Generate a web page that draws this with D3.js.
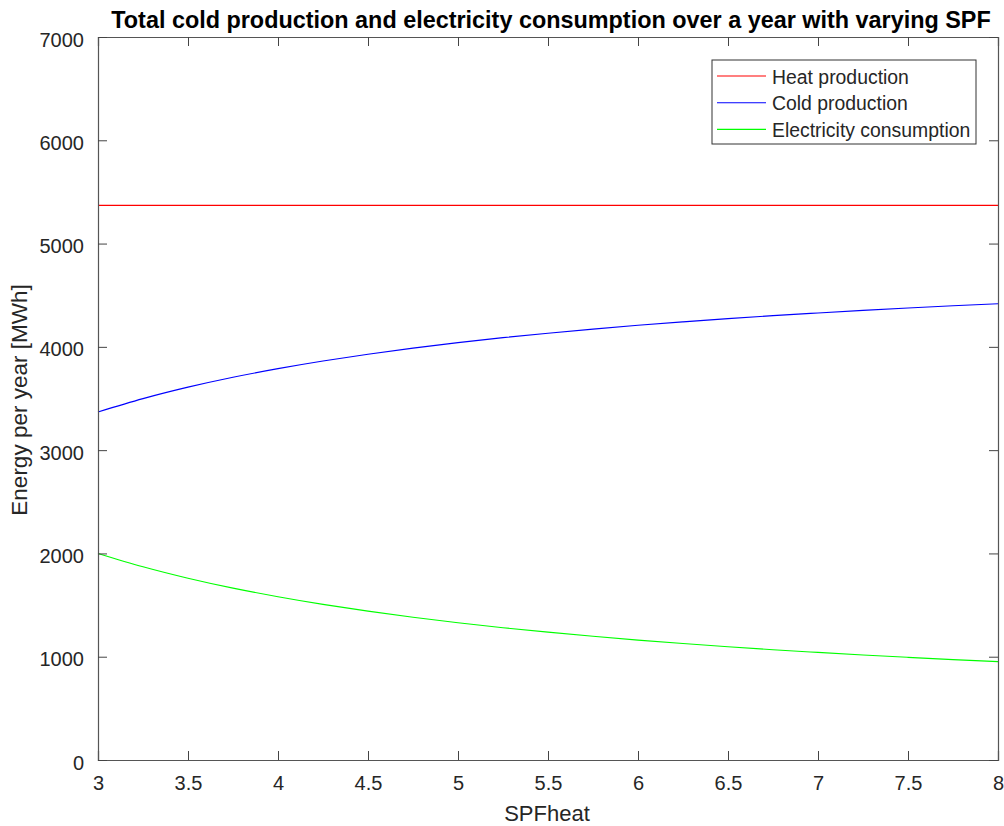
<!DOCTYPE html>
<html>
<head>
<meta charset="utf-8">
<script src="https://cdn.jsdelivr.net/npm/d3@7"></script>
<style>
  body { margin: 0; background: #fff; }
  text { font-family: "Liberation Sans", Arial, sans-serif; fill: #262626; }
</style>
</head>
<body>
<div id="chart"></div>
<script>
// SPF values, every 0.25
var spf = [3, 3.25, 3.5, 3.75, 4, 4.25, 4.5, 4.75, 5, 5.25, 5.5, 5.75, 6, 6.25, 6.5, 6.75, 7, 7.25, 7.5, 7.75, 8];
var heat = [5370, 5370, 5370, 5370, 5370, 5370, 5370, 5370, 5370, 5370, 5370,
            5370, 5370, 5370, 5370, 5370, 5370, 5370, 5370, 5370, 5370];
var cold = [3370, 3499, 3610, 3706, 3789, 3863, 3929, 3988, 4041, 4089, 4132,
            4172, 4209, 4242, 4273, 4302, 4328, 4353, 4376, 4398, 4418];
var elec = [2000, 1871, 1760, 1664, 1581, 1507, 1441, 1382, 1329, 1281, 1238,
            1198, 1161, 1128, 1097, 1068, 1042, 1017, 994, 972, 952];
var seriesNames = ["Heat production", "Cold production", "Electricity consumption"];
var seriesColors = ["#ff0000", "#0000ff", "#00ff00"];
var xTicks = [3, 3.5, 4, 4.5, 5, 5.5, 6, 6.5, 7, 7.5, 8];
var yTicks = [0, 1000, 2000, 3000, 4000, 5000, 6000, 7000];

var width = 1004, height = 826;
// plot box (note: "top" is taken by window.top, so prefix them)
var plotLeft = 98, plotRight = 998, plotTop = 37, plotBottom = 760;

var svg = d3.select("#chart").append("svg")
  .attr("width", width)
  .attr("height", height);

var x = d3.scaleLinear().domain([3, 8]).range([plotLeft, plotRight]);
var y = d3.scaleLinear().domain([0, 7000]).range([plotBottom, plotTop]);

// lines
var allSeries = [heat, cold, elec];
var line = d3.line()
  .x(function(d, i) { return x(spf[i]); })
  .y(function(d) { return y(d); })
  .curve(d3.curveMonotoneX);

svg.selectAll(".series")
  .data(allSeries)
  .enter().append("path")
  .attr("class", "series")
  .attr("d", line)
  .attr("fill", "none")
  .attr("stroke", function(d, i) { return seriesColors[i]; })
  .attr("stroke-width", 1.1);

// axes: ticks point inward, mirrored on top and right like matlab box on
var tickLen = 9;
var xAxis = d3.axisBottom(x).tickValues(xTicks).tickSize(-tickLen).tickPadding(16)
  .tickFormat(d3.format("~g"));
var xTop = d3.axisTop(x).tickValues(xTicks).tickSize(-tickLen).tickFormat("");
var yAxis = d3.axisLeft(y).tickValues(yTicks).tickSize(-tickLen).tickPadding(14)
  .tickFormat(d3.format("d"));
var yRight = d3.axisRight(y).tickValues(yTicks).tickSize(-tickLen).tickFormat("");

function styleAxis(g) {
  g.selectAll("path").attr("stroke", "#555").attr("stroke-width", 1.2);
  g.selectAll("line").attr("stroke", "#444").attr("stroke-width", 1);
  g.selectAll("text").attr("font-size", 20).attr("fill", "#262626")
    .attr("font-family", "'Liberation Sans', Arial, sans-serif");
}

svg.append("g").attr("transform", "translate(0," + plotBottom + ")").call(xAxis).call(styleAxis);
svg.append("g").attr("transform", "translate(0," + plotTop + ")").call(xTop).call(styleAxis);
svg.append("g").attr("transform", "translate(" + plotLeft + ",0)").call(yAxis).call(styleAxis)
  .selectAll("text").attr("dy", "0.45em");
svg.append("g").attr("transform", "translate(" + plotRight + ",0)").call(yRight).call(styleAxis);

// title and axis labels
svg.append("text")
  .attr("x", 551)
  .attr("y", 28)
  .attr("text-anchor", "middle")
  .attr("font-size", 23.4)
  .attr("font-weight", "bold")
  .style("fill", "#000")
  .text("Total cold production and electricity consumption over a year with varying SPF");

svg.append("text")
  .attr("x", 547)
  .attr("y", 821)
  .attr("text-anchor", "middle")
  .attr("font-size", 22)
  .text("SPFheat");

svg.append("text")
  .attr("transform", "translate(27,400) rotate(-90)")
  .attr("text-anchor", "middle")
  .attr("font-size", 22.5)
  .text("Energy per year [MWh]");

// legend
var legend = svg.append("g").attr("transform", "translate(712,60)");
legend.append("rect")
  .attr("width", 264)
  .attr("height", 84)
  .attr("fill", "#fff")
  .attr("stroke", "#333")
  .attr("stroke-width", 1);

var item = legend.selectAll(".item")
  .data(seriesNames)
  .enter().append("g")
  .attr("class", "item")
  .attr("transform", function(d, i) { return "translate(0," + (16 + i * 26.7) + ")"; });

item.append("line")
  .attr("x1", 5).attr("x2", 54)
  .attr("stroke", function(d, i) { return seriesColors[i]; })
  .attr("stroke-width", 1.1);

item.append("text")
  .attr("x", 60)
  .attr("y", 7.5)
  .attr("font-size", 19.4)
  .text(function(d) { return d; });
</script>
</body>
</html>
